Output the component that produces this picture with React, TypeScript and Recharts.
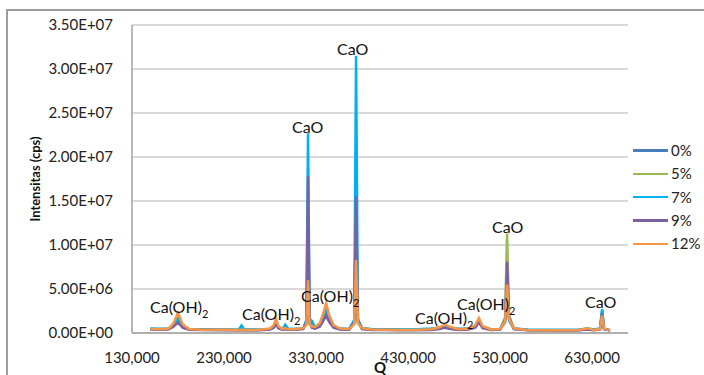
import React from "react";
import { LineChart, Line, XAxis, YAxis, CartesianGrid, ReferenceDot } from "recharts";

// Q positions (x axis)
const q = [
  150000, 160000, 170000, 175000, 180000, 185000, 192000, 205000,
  220000, 246000, 249000, 252000, 268000, 280000,
  284000, 286500, 289000, 293500, 296500, 300000, 308000,
  316000, 319500, 321300, 323000, 325500, 329000,
  334000, 338000, 341000, 344000, 349000, 356000, 366000,
  371500, 373500, 375500, 380000, 390000, 405000, 420000,
  440000, 455000, 464000, 470000, 476000, 485000, 496000,
  503000, 507000, 511000, 520000, 530000,
  535500, 537600, 539700, 545000, 560000, 580000,
  600000, 615000, 625000, 632000, 638500, 640900, 643000, 649500,
];

// intensities in millions of cps, same grouping as q
const pct0 = [
  0.42, 0.4, 0.45, 0.8, 1.5, 0.7, 0.4, 0.36,
  0.35, 0.34, 0.4, 0.33, 0.35, 0.42,
  0.65, 1.2, 0.6, 0.4, 0.5, 0.4, 0.42,
  0.48, 1.3, 12.3, 1.2, 0.7, 0.55,
  0.8, 1.7, 2.4, 1.5, 0.7, 0.45, 0.4,
  1.3, 14.8, 1.4, 0.5, 0.4, 0.38, 0.36,
  0.36, 0.42, 0.55, 0.75, 0.55, 0.4, 0.45,
  0.7, 1.3, 0.65, 0.38, 0.42,
  1.4, 5.8, 1.6, 0.45, 0.33, 0.32,
  0.3, 0.32, 0.45, 0.33, 0.45, 2.5, 0.45, 0.3,
];
const pct5 = [
  0.45, 0.43, 0.48, 0.95, 1.8, 0.85, 0.42, 0.38,
  0.36, 0.35, 0.38, 0.34, 0.36, 0.45,
  0.75, 1.4, 0.7, 0.42, 0.5, 0.4, 0.44,
  0.5, 1.0, 4.5, 1.0, 0.7, 0.6,
  0.95, 2.0, 2.8, 1.8, 0.8, 0.48, 0.42,
  1.1, 7.0, 1.2, 0.5, 0.4, 0.38, 0.36,
  0.37, 0.44, 0.6, 0.85, 0.6, 0.42, 0.48,
  0.8, 1.5, 0.75, 0.4, 0.44,
  1.8, 11.3, 2.0, 0.5, 0.34, 0.32,
  0.3, 0.33, 0.5, 0.34, 0.45, 2.3, 0.45, 0.3,
];
const pct7 = [
  0.5, 0.48, 0.52, 0.9, 1.6, 0.8, 0.45, 0.42,
  0.4, 0.38, 0.85, 0.4, 0.38, 0.45,
  0.7, 1.3, 0.65, 0.45, 0.95, 0.45, 0.48,
  0.5, 1.5, 22.7, 1.6, 1.4, 0.6,
  0.9, 1.9, 2.6, 1.7, 0.75, 0.5, 0.45,
  1.5, 31.5, 1.6, 0.55, 0.45, 0.42, 0.4,
  0.42, 0.5, 0.6, 0.8, 0.6, 0.48, 0.5,
  0.75, 1.4, 0.7, 0.42, 0.45,
  1.2, 6.5, 1.4, 0.5, 0.4, 0.38,
  0.36, 0.38, 0.5, 0.4, 0.5, 2.7, 0.5, 0.35,
];
const pct9 = [
  0.4, 0.38, 0.42, 0.7, 1.2, 0.6, 0.38, 0.34,
  0.33, 0.32, 0.34, 0.3, 0.32, 0.4,
  0.6, 1.0, 0.55, 0.38, 0.42, 0.38, 0.4,
  0.45, 1.2, 17.8, 1.4, 0.6, 0.5,
  0.7, 1.4, 2.0, 1.3, 0.6, 0.4, 0.38,
  1.2, 15.5, 1.3, 0.45, 0.35, 0.33, 0.32,
  0.32, 0.35, 0.45, 0.6, 0.45, 0.35, 0.4,
  0.6, 1.2, 0.55, 0.33, 0.38,
  1.5, 8.1, 1.8, 0.45, 0.3, 0.3,
  0.28, 0.3, 0.4, 0.3, 0.4, 2.2, 0.45, 0.28,
];
const pct12 = [
  0.45, 0.42, 0.5, 1.1, 2.3, 1.0, 0.45, 0.38,
  0.36, 0.34, 0.38, 0.33, 0.36, 0.5,
  0.9, 1.6, 0.8, 0.45, 0.55, 0.42, 0.45,
  0.55, 0.9, 6.0, 1.0, 0.75, 0.7,
  1.1, 2.3, 3.4, 2.1, 0.9, 0.5, 0.45,
  1.0, 8.3, 1.1, 0.55, 0.4, 0.38, 0.35,
  0.36, 0.42, 0.65, 0.95, 0.7, 0.42, 0.5,
  0.9, 1.7, 0.8, 0.4, 0.45,
  1.3, 5.5, 1.6, 0.5, 0.35, 0.32,
  0.3, 0.35, 0.55, 0.35, 0.45, 2.0, 0.5, 0.3,
];

const seriesNames = ["0%", "5%", "7%", "9%", "12%"];
const seriesValues = [pct0, pct5, pct7, pct9, pct12];
const seriesColors = ["#4A7EBB", "#98B954", "#00B0F0", "#7D60A0", "#F79646"];

const yTicks = [0, 5e6, 1e7, 1.5e7, 2e7, 2.5e7, 3e7, 3.5e7];
const xTicks = [130000, 230000, 330000, 430000, 530000, 630000];

// peak labels, anchored at (Q, intensity) = left end of the text baseline
const peakLabels = [
  { text: "Ca(OH)", sub: "2", q: 149600, i: 2.27e6 },
  { text: "Ca(OH)", sub: "2", q: 249600, i: 1.48e6 },
  { text: "Ca(OH)", sub: "2", q: 313700, i: 3.52e6 },
  { text: "CaO", sub: "", q: 303900, i: 22.7e6 },
  { text: "CaO", sub: "", q: 352800, i: 31.6e6 },
  { text: "Ca(OH)", sub: "2", q: 437600, i: 1.02e6 },
  { text: "Ca(OH)", sub: "2", q: 483300, i: 2.61e6 },
  { text: "CaO", sub: "", q: 521300, i: 11.4e6 },
  { text: "CaO", sub: "", q: 622400, i: 2.84e6 },
];

const data = q.map((x, idx) => {
  const row: Record<string, number> = { q: x };
  seriesValues.forEach((vals, s) => {
    row["s" + s] = vals[idx] * 1e6;
  });
  return row;
});

const FONT = "Lato, 'Open Sans', sans-serif";

function sci(v: number) {
  const [m, e] = v.toExponential(2).split("e");
  const n = Math.abs(parseInt(e, 10));
  return `${m}E${e[0] === "-" ? "-" : "+"}${n < 10 ? "0" + n : n}`;
}

function PeakText(props: any) {
  const { viewBox, text, sub } = props;
  if (!viewBox) return null;
  return (
    <text x={viewBox.x} y={viewBox.y} fontSize={16} fontFamily={FONT} fill="#111" textAnchor="start">
      <tspan>{text}</tspan>
      {sub ? (
        <tspan fontSize={11} dy={5}>
          {sub}
        </tspan>
      ) : null}
    </text>
  );
}

export default function App() {
  return (
    <div
      style={{
        position: "absolute",
        left: 0,
        top: 0,
        width: 704,
        height: 375,
        overflow: "hidden",
        background: "#fff",
        fontFamily: FONT,
      }}
    >
      <div
        style={{
          position: "absolute",
          left: 6,
          top: 9,
          width: 740,
          height: 420,
          border: "2px solid #9c9c9c",
        }}
      />
      <div style={{ position: "absolute", left: 0, top: 0 }}>
        <LineChart width={704} height={375} data={data} margin={{ top: 25, right: 76, bottom: 0, left: 0 }}>
          <CartesianGrid vertical={false} stroke="#b4b4b4" strokeWidth={1} />
          <XAxis
            dataKey="q"
            type="number"
            height={42}
            domain={[130000, 669000]}
            allowDataOverflow
            ticks={xTicks}
            interval={0}
            tickFormatter={(v: number) => v.toLocaleString("en-US")}
            tickLine={false}
            tickSize={0}
            tickMargin={19}
            axisLine={{ stroke: "#a0a0a0", strokeWidth: 1.5 }}
            tick={{ fill: "#222", fontSize: 15, fontFamily: FONT }}
            label={{
              content: (p: any) => (
                <text
                  x={p.viewBox.x + p.viewBox.width / 2}
                  y={373}
                  textAnchor="middle"
                  fontSize={15}
                  fontWeight="bold"
                  fontFamily={FONT}
                  fill="#111"
                >
                  Q
                </text>
              ),
            }}
          />
          <YAxis
            type="number"
            width={132}
            domain={[0, 3.5e7]}
            ticks={yTicks}
            interval={0}
            tickFormatter={sci}
            tickLine={false}
            tickSize={0}
            tickMargin={19}
            axisLine={{ stroke: "#a0a0a0", strokeWidth: 1.5 }}
            tick={{ fill: "#222", fontSize: 15, fontFamily: FONT }}
            label={{
              content: (p: any) => {
                const cx = p.viewBox.x + 35;
                const cy = p.viewBox.y + p.viewBox.height / 2;
                return (
                  <text
                    x={cx}
                    y={cy}
                    transform={`rotate(-90 ${cx} ${cy})`}
                    textAnchor="middle"
                    dominantBaseline="central"
                    fontSize={13}
                    fontWeight="bold"
                    fontFamily={FONT}
                    fill="#111"
                  >
                    Intensitas (cps)
                  </text>
                );
              },
            }}
          />
          {seriesNames.map((name, s) => (
            <Line
              key={name}
              name={name}
              type="linear"
              dataKey={"s" + s}
              stroke={seriesColors[s]}
              strokeWidth={2.5}
              dot={false}
              activeDot={false}
              isAnimationActive={false}
            />
          ))}
          {peakLabels.map((p, k) => (
            <ReferenceDot
              key={k}
              x={p.q}
              y={p.i}
              r={0}
              fill="none"
              stroke="none"
              label={<PeakText text={p.text} sub={p.sub} />}
            />
          ))}
        </LineChart>
      </div>
      <div style={{ position: "absolute", left: 633, top: 139 }}>
        {seriesNames.map((name, s) => (
          <div key={name} style={{ display: "flex", alignItems: "center", height: 23.3 }}>
            <div style={{ width: 35, height: 2.5, background: seriesColors[s] }} />
            <span style={{ marginLeft: 3, fontSize: 15, color: "#222", lineHeight: "23px" }}>{name}</span>
          </div>
        ))}
      </div>
    </div>
  );
}
